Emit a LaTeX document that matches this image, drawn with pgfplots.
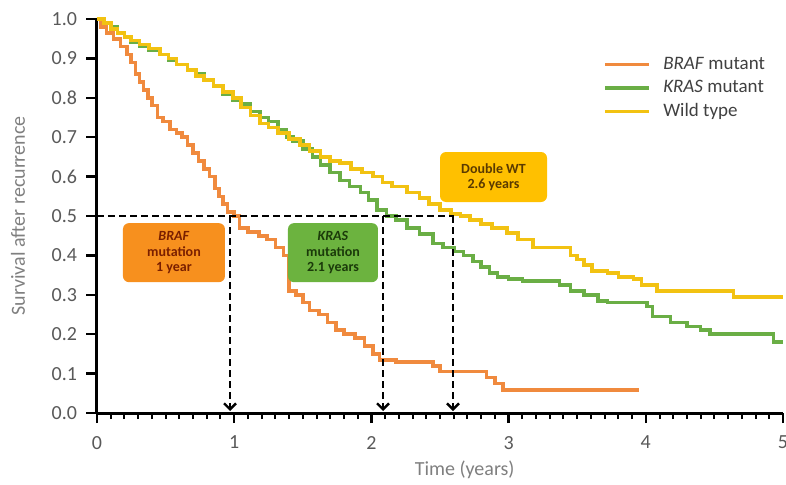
\documentclass[border=0pt]{standalone}
\usepackage{fontspec}
\setmainfont{Carlito}
\usepackage{pgfplots}
\pgfplotsset{compat=1.18}
\usetikzlibrary{arrows.meta}
\definecolor{cBraf}{HTML}{F08A3E}
\definecolor{cKras}{HTML}{6AAE45}
\definecolor{cWT}{HTML}{F2C212}
\definecolor{bBraf}{HTML}{F7901E}
\definecolor{bKras}{HTML}{6CB33F}
\definecolor{bWT}{HTML}{FFC000}
\definecolor{tBraf}{HTML}{7A1F00}
\definecolor{tKras}{HTML}{1B3A0A}
\definecolor{tWT}{HTML}{5A3A00}
\definecolor{tickgray}{HTML}{595959}
\definecolor{labgray}{HTML}{7F7F7F}
\begin{document}
\begin{tikzpicture}
\begin{axis}[
  name=ax,
  width=343pt, height=197pt, scale only axis,
  xmin=0, xmax=5, ymin=0, ymax=1,
  axis x line*=bottom, axis y line*=left,
  axis line style={line width=1.5pt, black},
  xtick={0,1,2,3,4,5},
  minor x tick num=9,
  ytick={0,0.1,0.2,0.3,0.4,0.5,0.6,0.7,0.8,0.9,1.0},
  yticklabel style={/pgf/number format/fixed, /pgf/number format/fixed zerofill, /pgf/number format/precision=1, xshift=-1.5pt},
  xticklabel style={yshift=-3pt},
  /pgf/number format/assume math mode=true,
  tick align=outside,
  major tick length=5pt,
  minor tick length=3pt,
  major tick style={line width=1.2pt, draw=black},
  minor tick style={line width=1.0pt, draw=black},
  ticklabel style={font=\fontsize{10}{12}\selectfont, text=tickgray},
  xlabel={Time (years)},
  xlabel style={at={(axis description cs:0.536,0)}, anchor=center, yshift=-28.5pt, font=\fontsize{10}{12}\selectfont, text=labgray},
  ylabel={Survival after recurrence},
  ylabel style={at={(axis description cs:0,0.5)}, anchor=center, yshift=39.5pt, font=\fontsize{10}{12}\selectfont, text=labgray},
  legend style={draw=none, fill=none, at={(axis cs:3.69,0.915)}, anchor=north west,
    font=\fontsize{9.5}{11}\selectfont, text=black!75, row sep=0pt, inner sep=0pt},
  legend cell align=left,
  legend image code/.code={\draw[#1, line width=1.8pt] (0pt,0pt) -- (22pt,0pt); \path (26pt,0pt);},
  clip=false,
]
% tick marks as comb plots (axis decoration)
\addplot[forget plot, ycomb, black, line width=1.2pt, mark=none] coordinates {
(0,-0.023) (1,-0.023) (2,-0.023) (3,-0.023) (4,-0.023) (5,-0.023)};
\addplot[forget plot, ycomb, black, line width=1.0pt, mark=none] coordinates {
(0.1,-0.013) (0.2,-0.013) (0.3,-0.013) (0.4,-0.013) (0.5,-0.013) (0.6,-0.013) (0.7,-0.013) (0.8,-0.013) (0.9,-0.013)
(1.1,-0.013) (1.2,-0.013) (1.3,-0.013) (1.4,-0.013) (1.5,-0.013) (1.6,-0.013) (1.7,-0.013) (1.8,-0.013) (1.9,-0.013)
(2.1,-0.013) (2.2,-0.013) (2.3,-0.013) (2.4,-0.013) (2.5,-0.013) (2.6,-0.013) (2.7,-0.013) (2.8,-0.013) (2.9,-0.013)
(3.1,-0.013) (3.2,-0.013) (3.3,-0.013) (3.4,-0.013) (3.5,-0.013) (3.6,-0.013) (3.7,-0.013) (3.8,-0.013) (3.9,-0.013)
(4.1,-0.013) (4.2,-0.013) (4.3,-0.013) (4.4,-0.013) (4.5,-0.013) (4.6,-0.013) (4.7,-0.013) (4.8,-0.013) (4.9,-0.013)};
\addplot[forget plot, xcomb, black, line width=1.2pt, mark=none] coordinates {
(-0.08,0) (-0.08,0.1) (-0.08,0.2) (-0.08,0.3) (-0.08,0.4) (-0.08,0.5) (-0.08,0.6) (-0.08,0.7) (-0.08,0.8) (-0.08,0.9) (-0.08,1.0)};
\addplot[const plot, cBraf, line width=1.8pt] coordinates {
(0,1.0) (0.03,0.98) (0.07,0.965) (0.12,0.95) (0.17,0.93) (0.22,0.91) (0.25,0.89)
(0.28,0.86) (0.31,0.84) (0.34,0.82) (0.37,0.80) (0.40,0.78) (0.44,0.75) (0.48,0.74)
(0.53,0.72) (0.58,0.71) (0.62,0.70) (0.66,0.68) (0.70,0.66) (0.74,0.64) (0.78,0.62)
(0.82,0.60) (0.86,0.57) (0.89,0.55) (0.92,0.53) (0.95,0.51) (1.00,0.50) (1.04,0.47)
(1.10,0.46) (1.18,0.45) (1.24,0.44) (1.30,0.42) (1.36,0.40) (1.40,0.31) (1.45,0.30)
(1.50,0.28) (1.55,0.26) (1.62,0.25) (1.68,0.23) (1.74,0.21) (1.80,0.20) (1.88,0.19)
(1.95,0.17) (2.01,0.15) (2.06,0.135) (2.18,0.13) (2.45,0.12) (2.50,0.105) (2.84,0.09)
(2.90,0.075) (2.96,0.058) (3.95,0.058)
};
\addlegendentry{\textit{BRAF} mutant}
\addplot[const plot, cKras, line width=1.8pt] coordinates {
(0,1.0) (0.05,0.99) (0.10,0.98) (0.15,0.965) (0.20,0.955) (0.25,0.94) (0.31,0.93)
(0.38,0.92) (0.46,0.91) (0.52,0.895) (0.58,0.885) (0.66,0.87) (0.72,0.86) (0.78,0.845)
(0.85,0.83) (0.92,0.81) (0.99,0.795) (1.05,0.785) (1.12,0.765) (1.19,0.75) (1.25,0.74)
(1.32,0.72) (1.38,0.70) (1.43,0.69) (1.50,0.67) (1.57,0.65) (1.63,0.63) (1.70,0.61)
(1.77,0.59) (1.84,0.575) (1.92,0.56) (1.98,0.54) (2.04,0.515) (2.11,0.50) (2.18,0.49)
(2.26,0.47) (2.35,0.455) (2.45,0.43) (2.52,0.42) (2.60,0.41) (2.67,0.40) (2.74,0.385)
(2.80,0.37) (2.86,0.355) (2.92,0.345) (3.00,0.34) (3.10,0.335) (3.37,0.325) (3.45,0.31)
(3.55,0.30) (3.65,0.285) (3.72,0.28) (4.01,0.27) (4.05,0.245) (4.18,0.23) (4.30,0.22)
(4.40,0.21) (4.47,0.20) (4.93,0.18) (5.0,0.18)
};
\addlegendentry{\textit{KRAS} mutant}
\addplot[const plot, cWT, line width=1.8pt] coordinates {
(0,1.0) (0.05,0.99) (0.10,0.975) (0.15,0.965) (0.20,0.955) (0.25,0.945) (0.31,0.935)
(0.38,0.925) (0.46,0.91) (0.52,0.90) (0.58,0.885) (0.66,0.87) (0.72,0.855) (0.78,0.845)
(0.85,0.83) (0.92,0.815) (0.99,0.80) (1.05,0.775) (1.12,0.755) (1.19,0.735) (1.25,0.725)
(1.32,0.71) (1.40,0.695) (1.48,0.68) (1.55,0.665) (1.63,0.65) (1.70,0.64) (1.77,0.635)
(1.85,0.62) (1.93,0.61) (2.01,0.60) (2.08,0.585) (2.15,0.575) (2.26,0.56) (2.35,0.545)
(2.42,0.53) (2.50,0.515) (2.58,0.505) (2.65,0.50) (2.72,0.49) (2.80,0.48) (2.88,0.47)
(2.99,0.457) (3.07,0.44) (3.18,0.42) (3.45,0.40) (3.50,0.39) (3.55,0.375) (3.61,0.36)
(3.72,0.355) (3.80,0.345) (3.91,0.34) (3.97,0.325) (4.08,0.31) (4.64,0.295) (5.0,0.295)
};
\addlegendentry{Wild type}
% dashed guide lines
\draw[black, line width=1.2pt, dash pattern=on 3.5pt off 2pt] (axis cs:0,0.5) -- (axis cs:2.6,0.5);
\draw[black, line width=1.2pt, dash pattern=on 3.5pt off 2pt, -{Straight Barb[length=3pt,width=6pt]}] (axis cs:0.97,0.5) -- (axis cs:0.97,0.005);
\draw[black, line width=1.2pt, dash pattern=on 3.5pt off 2pt, -{Straight Barb[length=3pt,width=6pt]}] (axis cs:2.085,0.5) -- (axis cs:2.085,0.005);
\draw[black, line width=1.2pt, dash pattern=on 3.5pt off 2pt, -{Straight Barb[length=3pt,width=6pt]}] (axis cs:2.595,0.5) -- (axis cs:2.595,0.005);
% annotation boxes
\node[fill=bBraf, rounded corners=3pt, minimum width=51pt, minimum height=29.5pt, inner sep=1pt, align=center,
  text=tBraf, font=\fontsize{7}{7.8}\selectfont\bfseries] at (axis cs:0.561,0.407) {\textit{BRAF}\\mutation\\1 year};
\node[fill=bKras, rounded corners=3pt, minimum width=45pt, minimum height=29.5pt, inner sep=1pt, align=center,
  text=tKras, font=\fontsize{7}{7.8}\selectfont\bfseries] at (axis cs:1.72,0.407) {\textit{KRAS}\\mutation\\2.1 years};
\node[fill=bWT, rounded corners=3pt, minimum width=53.5pt, minimum height=25pt, inner sep=1pt, align=center,
  text=tWT, font=\fontsize{7}{7.8}\selectfont\bfseries] at (axis cs:2.89,0.599) {Double WT\\2.6 years};
\end{axis}
\pgfresetboundingbox
\path[use as bounding box] ([xshift=-48.5pt,yshift=-35.5pt]ax.south west) rectangle ++(393pt,242pt);
\end{tikzpicture}
\end{document}
